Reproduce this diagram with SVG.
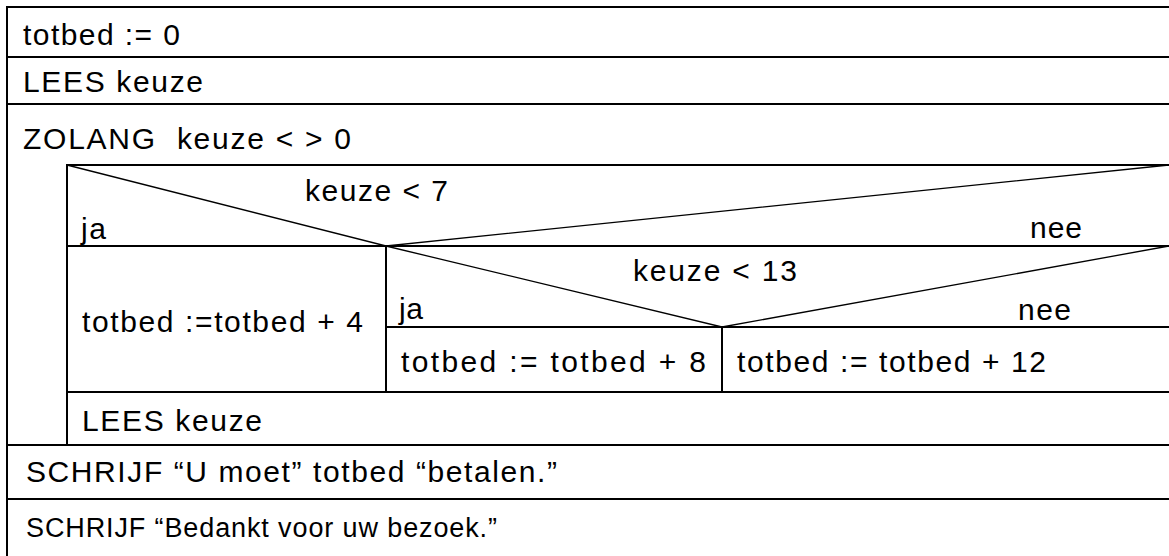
<svg xmlns="http://www.w3.org/2000/svg" width="1169" height="556" viewBox="0 0 1169 556">
  <style>
    .frame { stroke: #000; stroke-width: 2; fill: none; stroke-linecap: square; }
    .diag { stroke: #000; stroke-width: 1.3; fill: none; }
    .t { font-family: "Liberation Sans", Arial, sans-serif; font-size: 30px; fill: #000; }
    .s { font-size: 27px; }
  </style>
  <rect width="1169" height="556" fill="#fff"/>

  <!-- outer frame -->
  <g id="outer">
    <line class="frame" x1="7" y1="7" x2="1169" y2="7"/>
    <line class="frame" x1="7" y1="7" x2="7" y2="556"/>
  </g>

  <g id="init">
    <text class="t" x="23" y="45" textLength="157" lengthAdjust="spacing">totbed := 0</text>
    <line class="frame" x1="7" y1="57" x2="1169" y2="57"/>
  </g>

  <g id="read1">
    <text class="t" x="23" y="92" textLength="180" lengthAdjust="spacing">LEES keuze</text>
    <line class="frame" x1="7" y1="104" x2="1169" y2="104"/>
  </g>

  <g id="loop">
    <text class="t" x="23" y="149" textLength="328" lengthAdjust="spacing" xml:space="preserve">ZOLANG  keuze &lt; &gt; 0</text>
    <line class="frame" x1="67" y1="165" x2="1169" y2="165"/>
    <line class="frame" x1="67" y1="165" x2="67" y2="445"/>
  </g>

  <g id="cond1">
    <polyline class="diag" points="67,165 386,246 1169,165"/>
    <text class="t" x="305" y="201" textLength="143" lengthAdjust="spacing">keuze &lt; 7</text>
    <text class="t" x="81" y="239" textLength="25" lengthAdjust="spacing">ja</text>
    <text class="t" x="1030" y="238" textLength="52" lengthAdjust="spacing">nee</text>
    <line class="frame" x1="67" y1="246" x2="1169" y2="246"/>
    <line class="frame" x1="386" y1="246" x2="386" y2="392"/>
  </g>

  <g id="add4">
    <text class="t" x="82" y="332" textLength="281" lengthAdjust="spacing">totbed :=totbed + 4</text>
  </g>

  <g id="cond2">
    <polyline class="diag" points="386,246 722,327 1169,246"/>
    <text class="t" x="633" y="281" textLength="164" lengthAdjust="spacing">keuze &lt; 13</text>
    <text class="t" x="399" y="319" textLength="24" lengthAdjust="spacing">ja</text>
    <text class="t" x="1018" y="320" textLength="53" lengthAdjust="spacing">nee</text>
    <line class="frame" x1="386" y1="327" x2="1169" y2="327"/>
    <line class="frame" x1="722" y1="327" x2="722" y2="392"/>
  </g>

  <g id="add8">
    <text class="t" x="401" y="372" textLength="305" lengthAdjust="spacing">totbed := totbed + 8</text>
  </g>

  <g id="add12">
    <text class="t" x="737" y="372" textLength="309" lengthAdjust="spacing">totbed := totbed + 12</text>
  </g>

  <g id="read2">
    <line class="frame" x1="67" y1="392" x2="1169" y2="392"/>
    <text class="t" x="82" y="431" textLength="180" lengthAdjust="spacing">LEES keuze</text>
  </g>

  <g id="write1">
    <line class="frame" x1="7" y1="445" x2="1169" y2="445"/>
    <text class="t" x="26" y="482" textLength="531" lengthAdjust="spacing">SCHRIJF “U moet” totbed “betalen.”</text>
  </g>

  <g id="write2">
    <line class="frame" x1="7" y1="499" x2="1169" y2="499"/>
    <text class="t s" x="26" y="537" textLength="471" lengthAdjust="spacing">SCHRIJF “Bedankt voor uw bezoek.”</text>
  </g>

  <!-- no separate connectors: the structure is drawn by the block outlines -->
  <g id="connectors"/>
</svg>
